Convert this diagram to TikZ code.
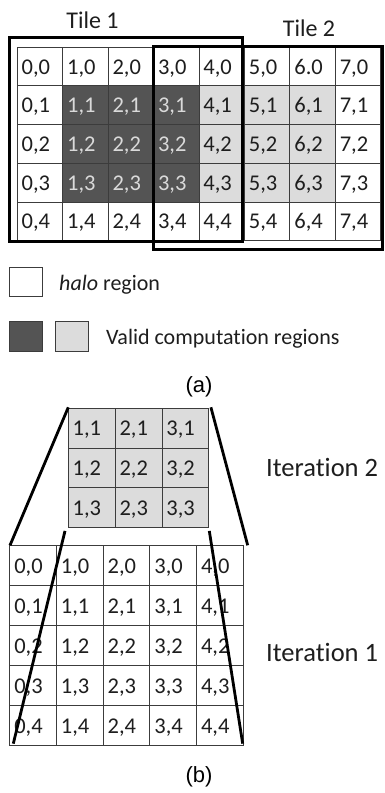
\documentclass[tikz,border=0pt]{standalone}
\usepackage{fontspec}
\setmainfont[Ligatures={NoCommon}]{Carlito}
\newfontfamily\capfont{Liberation Sans}
\definecolor{gridc}{HTML}{3C3C3C}
\definecolor{darkc}{HTML}{545454}
\definecolor{lightc}{HTML}{DCDCDC}
\definecolor{txt}{HTML}{1E1E1E}
\definecolor{txtl}{HTML}{DADADA}
\tikzset{
  cellbase/.style={draw=gridc, line width=0.9pt, anchor=north west, inner ysep=0pt, inner xsep=4.5pt,
    align=left, text height=15pt, text depth=0pt, text=txt, font=\fontsize{22.5}{24}\selectfont},
  cellA/.style={cellbase, text width=36.45pt, minimum height=38.7pt},
  cellB/.style={cellbase, text width=37.9pt, minimum height=39.7pt, fill=lightc},
  cellC/.style={cellbase, text width=37.7pt, minimum height=39.95pt, fill=white},
  plain/.style={fill=white},
  darkfill/.style={fill=darkc, text=txtl},
  lightfill/.style={fill=lightc},
  tile/.style={draw=black, line width=3pt},
  thick line/.style={draw=black, line width=2.8pt},
  lbl/.style={inner sep=0pt, text=txt},
  legbox/.style={draw=gridc, line width=0.9pt, minimum width=33.4pt, minimum height=29.5pt, inner sep=0pt},
}
\begin{document}
\begin{tikzpicture}[x=1pt,y=-1pt]
\useasboundingbox (0,0) rectangle (384,793);
\fill[white] (0,0) rectangle (384,793);
% ---------- (a) ----------
\foreach \i in {0,...,7}{
  \foreach \j in {0,...,4}{
    \def\sty{plain}
    \ifnum\j>0 \ifnum\j<4
      \ifnum\i>0 \ifnum\i<4 \def\sty{darkfill}\fi\fi
      \ifnum\i>3 \ifnum\i<7 \def\sty{lightfill}\fi\fi
    \fi\fi
    \def\lab{\i,\j}
    \ifnum\i=6 \ifnum\j=0 \def\lab{6.0}\fi\fi
    \node[cellA,\sty] (a-\i-\j) at ({16.7+45.45*\i},{46.7+38.7*\j}) {\lab};
  }
}
\draw[tile] (9.5,37.5) rectangle (242.3,241.5);
\draw[tile] (153.3,46.5) rectangle (382.5,249);
\node[lbl, anchor=base, font=\fontsize{24}{28}\selectfont] (tile1) at (92.5,28.3) {Tile 1};
\node[lbl, anchor=base, font=\fontsize{24}{28}\selectfont] (tile2) at (309,36.7) {Tile 2};
% legend
\node[legbox, fill=white] (halo) at (26,281.7) {};
\node[lbl, anchor=base west, font=\fontsize{22}{26}\selectfont] (halotxt) at (59,290.7) {\textit{halo} region};
\node[legbox, fill=darkc] (validd) at (26,336.4) {};
\node[legbox, fill=lightc] (validl) at (71.7,336.4) {};
\node[lbl, anchor=base west, font=\fontsize{22}{26}\selectfont] (validtxt) at (106,344) {Valid computation regions};
\node[inner sep=0pt, anchor=base, font=\capfont\fontsize{22}{26}\selectfont] (capa) at (199,392) {(a)};
% ---------- (b) ----------
\foreach \i in {0,1,2}{
  \foreach \j in {0,1,2}{
    \pgfmathtruncatemacro\ii{\i+1}
    \pgfmathtruncatemacro\jj{\j+1}
    \node[cellB] (t-\i-\j) at ({67.7+46.9*\i},{408+39.7*\j}) {\ii,\jj};
  }
}
\foreach \i in {0,...,4}{
  \foreach \j in {0,...,4}{
    \node[cellC] (b-\i-\j) at ({9.3+46.7*\i},{545.3+39.95*\j}) {\i,\j};
  }
}
\coordinate (o1) at ([xshift=0.6pt,yshift=0.7pt]t-0-0.north west);
\coordinate (o2) at ([xshift=0.7pt]b-0-0.north west);
\coordinate (o3) at ([xshift=1.6pt,yshift=0.7pt]t-2-0.north east);
\coordinate (o4) at ([xshift=4pt]b-4-0.north east);
\coordinate (i1) at ([xshift=-2.7pt,yshift=-2.9pt]t-0-2.south west);
\coordinate (i2) at ([xshift=4pt,yshift=2.3pt]b-0-4.south west);
\coordinate (i3) at ([yshift=-2.9pt]t-2-2.south east);
\coordinate (i4) at ([xshift=-1pt,yshift=2.3pt]b-4-4.south east);
\draw[thick line] (o1) -- (o2);
\draw[thick line] (o3) -- (o4);
\draw[thick line] (i1) -- (i2);
\draw[thick line] (i3) -- (i4);
\node[lbl, anchor=base west, font=\fontsize{26.5}{30}\selectfont] (it2) at (266,476) {Iteration 2};
\node[lbl, anchor=base west, font=\fontsize{26.5}{30}\selectfont] (it1) at (266,661.7) {Iteration 1};
\node[inner sep=0pt, anchor=base, font=\capfont\fontsize{22}{26}\selectfont] (capb) at (199,782) {(b)};
\end{tikzpicture}
\end{document}
